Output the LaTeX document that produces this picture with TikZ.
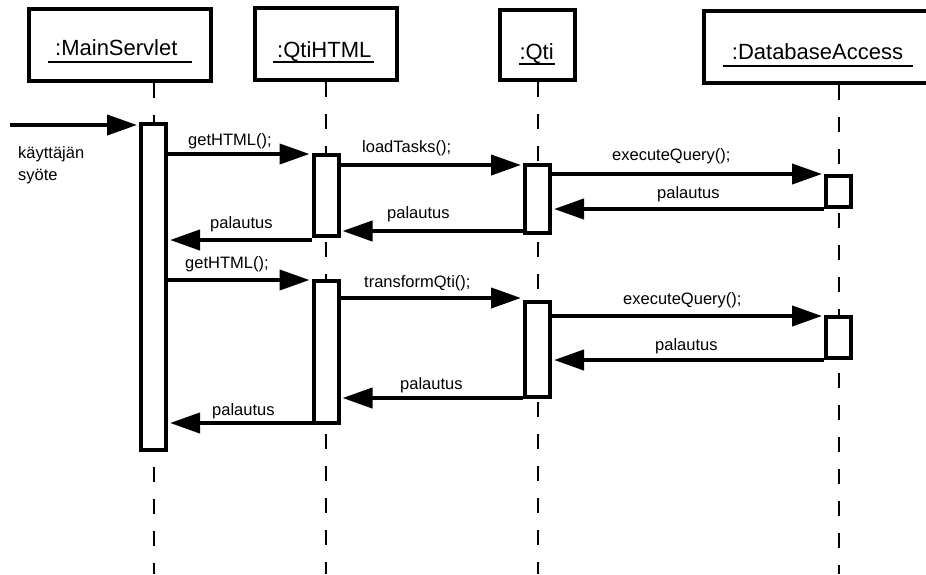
\documentclass[tikz,border=0pt]{standalone}
\usepackage{fontspec}
\setmainfont{Liberation Sans}
\usetikzlibrary{arrows.meta}
\begin{document}
\begin{tikzpicture}[x=1pt,y=-1pt,
  headbox/.style={draw, line width=4pt, fill=white, minimum width=#1, minimum height=72pt, inner sep=0pt},
  headtext/.style={inner sep=0pt, anchor=base west, font=\fontsize{22}{26}\selectfont},
  uline/.style={line width=2pt},
  lifeline/.style={line width=2pt, dash pattern=on 15pt off 17pt},
  actbar/.style={draw, line width=4pt, fill=white, minimum width=25pt, minimum height=#1, inner sep=0pt},
  msg/.style={line width=4pt, -{Triangle[length=30pt,width=20pt]}},
  lbl/.style={inner sep=0pt, anchor=base west, font=\fontsize{16.5}{22}\selectfont}]
\useasboundingbox (0,0) rectangle (926,574);
\clip (0,0) rectangle (926,574);

% object heads
\node[headbox=182pt] (hms) at (120,44.5) {};
\node[headbox=142pt] (hqh) at (326,44) {};
\node[headbox=75pt, minimum height=70pt] (hqt) at (537.5,45) {};
\node[headbox=236pt] (hdb) at (822,47) {};

\node[headtext] (tms) at (55,55.8) {:MainServlet};
\node[headtext] (tqh) at (277,57.4) {:QtiHTML};
\node[headtext] (tqt) at (519.3,59) {:Qti};
\node[headtext] (tdb) at (731.7,59) {:DatabaseAccess};
\draw[uline] ([xshift=-7pt,yshift=-6pt]tms.base west) -- ([xshift=14pt,yshift=-6pt]tms.base east);
\draw[uline] ([xshift=-4pt,yshift=-4.5pt]tqh.base west) -- ([xshift=2pt,yshift=-4.5pt]tqh.base east);
\draw[uline] ([yshift=-5pt]tqt.base west) -- ([xshift=1pt,yshift=-5pt]tqt.base east);
\draw[uline] ([xshift=-9pt,yshift=-6.5pt]tdb.base west) -- ([xshift=10pt,yshift=-6.5pt]tdb.base east);

% lifelines
\coordinate (ems) at (153.5,574);
\coordinate (eqh) at (326,574);
\coordinate (eqt) at (538,574);
\coordinate (edb) at (838.5,574);
\draw[lifeline] (hms.south -| ems) -- (ems);
\draw[lifeline] (hqh.south -| eqh) -- (eqh);
\draw[lifeline] (hqt.south -| eqt) -- (eqt);
\draw[lifeline] (hdb.south -| edb) -- (edb);

% activation bars
\node[actbar=326pt] (ams) at (153.5,287) {};
\node[actbar=81pt]  (aqh1) at (326,195.5) {};
\node[actbar=142pt] (aqh2) at (326,352) {};
\node[actbar=68pt]  (aqt1) at (537.5,199) {};
\node[actbar=95pt]  (aqt2) at (537.5,349.5) {};
\node[actbar=31pt]  (adb1) at (838.5,191.5) {};
\node[actbar=41pt]  (adb2) at (838.5,337.5) {};

% message levels
\coordinate (in) at (10,125);
\coordinate (m1) at (0,154);
\coordinate (m2) at (0,165);
\coordinate (m3) at (0,174);
\coordinate (m4) at (0,209);
\coordinate (m5) at (0,231);
\coordinate (m6) at (0,240);
\coordinate (m7) at (0,280);
\coordinate (m8) at (0,298);
\coordinate (m9) at (0,316);
\coordinate (m10) at (0,360);
\coordinate (m11) at (0,398);
\coordinate (m12) at (0,423);

% messages
\draw[msg] (in) -- ([xshift=-2pt]ams.west |- in);
\draw[msg] (ams.east |- m1) -- ([xshift=-2pt]aqh1.west |- m1);
\draw[msg] (aqh1.east |- m2) -- ([xshift=-2pt]aqt1.west |- m2);
\draw[msg] (aqt1.east |- m3) -- ([xshift=-2pt]adb1.west |- m3);
\draw[msg] (adb1.west |- m4) -- ([xshift=2pt]aqt1.east |- m4);
\draw[msg] (aqt1.west |- m5) -- ([xshift=2pt]aqh1.east |- m5);
\draw[msg] (aqh1.west |- m6) -- ([xshift=2pt]ams.east |- m6);
\draw[msg] (ams.east |- m7) -- ([xshift=-2pt]aqh2.west |- m7);
\draw[msg] (aqh2.east |- m8) -- ([xshift=-2pt]aqt2.west |- m8);
\draw[msg] (aqt2.east |- m9) -- ([xshift=-2pt]adb2.west |- m9);
\draw[msg] (adb2.west |- m10) -- ([xshift=2pt]aqt2.east |- m10);
\draw[msg] (aqt2.west |- m11) -- ([xshift=2pt]aqh2.east |- m11);
\draw[msg] (aqh2.west |- m12) -- ([xshift=2pt]ams.east |- m12);

% message labels
\node[lbl] (l0a) at (18,158.5) {käyttäjän};
\node[lbl] (l0b) at (18,180.5) {syöte};
\node[lbl] (l1) at (188,145) {getHTML();};
\node[lbl] (l2) at (362,152) {loadTasks();};
\node[lbl] (l3) at (612,160) {executeQuery();};
\node[lbl] (l4) at (657,198.5) {palautus};
\node[lbl] (l5) at (387,218.5) {palautus};
\node[lbl] (l6) at (210,228.5) {palautus};
\node[lbl] (l7) at (185,268.5) {getHTML();};
\node[lbl] (l8) at (364,287) {transformQti();};
\node[lbl] (l9) at (623,304.5) {executeQuery();};
\node[lbl] (l10) at (655,350) {palautus};
\node[lbl] (l11) at (400,389) {palautus};
\node[lbl] (l12) at (212,415) {palautus};
\end{tikzpicture}
\end{document}
